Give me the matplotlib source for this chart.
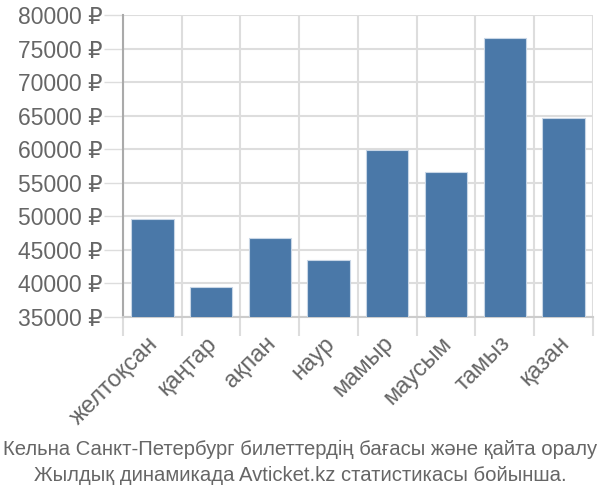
#!/usr/bin/env python3
'''
Flight price dynamics bar chart, Cologne - Saint Petersburg
'''

import numpy as np
import matplotlib
matplotlib.use('Agg')
import matplotlib.pyplot as plt
import matplotlib.transforms as mtransforms
from matplotlib.ticker import FixedLocator

MONTHS = ['желтоқсан', 'қаңтар', 'ақпан', 'наур', 'мамыр',
          'маусым', 'тамыз', 'қазан']
PRICES = [49600, 39450, 46750, 43450, 59850, 56600, 76500, 64650]
Y_TICKS = [35000, 40000, 45000, 50000, 55000, 60000, 65000, 70000,
           75000, 80000]
CAPTION = ('Кельна Санкт-Петербург билеттердің бағасы және қайта оралу\n'
           'Жылдық динамикада Avticket.kz статистикасы бойынша.')

BAR_COLOR = '#4a78a8'
GRID_COLOR = '#dddddd'
TEXT_COLOR = '#666666'

plt.rcParams['font.family'] = ['Liberation Sans', 'DejaVu Sans']

fig = plt.figure(figsize=(6, 5), dpi=100)
ax = fig.add_axes([0.205, 0.366, 0.783, 0.604])

x = np.arange(len(MONTHS))
ax.bar(x, PRICES, width=0.72, color=BAR_COLOR, edgecolor='#c8d6e6',
       linewidth=0.8, zorder=3)

ax.set_xlim(-0.5, len(MONTHS) - 0.5)
ax.set_ylim(35000, 80000)

ax.set_yticks(Y_TICKS)
ax.set_yticklabels([f'{v} ₽' for v in Y_TICKS])
ax.set_xticks(x)
ax.set_xticklabels(MONTHS, rotation=45, ha='right', rotation_mode='anchor')
ax.xaxis.set_minor_locator(FixedLocator(np.arange(-0.5, len(MONTHS), 1.0)))

ax.tick_params(axis='y', length=14, width=1, color=GRID_COLOR,
               labelsize=16.5, labelcolor=TEXT_COLOR, pad=1)
ax.tick_params(axis='x', which='major', length=0, labelsize=17,
               labelcolor=TEXT_COLOR, pad=11)
ax.tick_params(axis='x', which='minor', length=14, width=1.5,
               color=GRID_COLOR)

# nudge the rotated month names a little to the left
shift = mtransforms.ScaledTranslation(-5 / 100, 0, fig.dpi_scale_trans)
for lbl in ax.get_xticklabels():
    lbl.set_transform(lbl.get_transform() + shift)

ax.grid(axis='y', color=GRID_COLOR, linewidth=1.5, zorder=0)
ax.grid(axis='x', which='minor', color=GRID_COLOR, linewidth=1.5, zorder=0)

for side in ['top', 'right']:
    ax.spines[side].set_visible(False)
ax.spines['left'].set_color('#aaaaaa')
ax.spines['left'].set_linewidth(1.5)
ax.spines['bottom'].set_color('#cccccc')
ax.spines['bottom'].set_linewidth(1.5)

fig.text(0.5, 0.03, CAPTION, ha='center', va='bottom', fontsize=14.6,
         color=TEXT_COLOR, linespacing=1.45)

fig.savefig('out.png', dpi=100)
